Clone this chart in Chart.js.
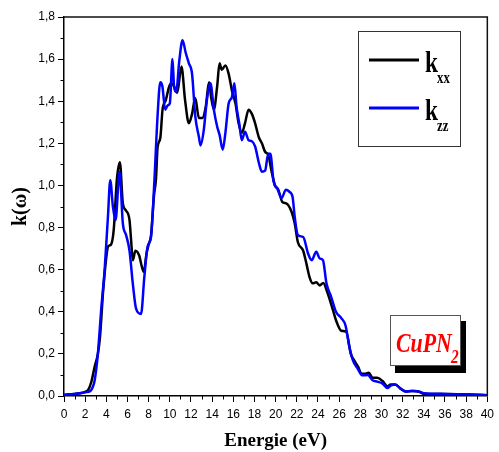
<!DOCTYPE html>
<html>
<head>
<meta charset="utf-8">
<script src="https://cdn.jsdelivr.net/npm/chart.js@4"></script>
<style>
  html, body { margin: 0; padding: 0; background: #fff; }
  #wrap { width: 499px; height: 452px; }
</style>
</head>
<body>
<div id="wrap"><canvas id="chart-k"></canvas></div>
<script>
const series_labels = ['xx', 'zz'];

// k_xx (black)
const energy_xx = [0, 1, 1.5, 2.0, 2.3, 2.6, 2.9, 3.2, 3.4, 3.7, 4.0, 4.16, 4.45, 4.7, 5.0, 5.28, 5.56, 5.87, 6.19, 6.34,
    6.5, 6.75, 7.12, 7.28, 7.53, 7.81, 8.0, 8.22, 8.5, 8.69, 8.84, 9.1, 9.31, 9.62, 9.94, 10.16, 10.4, 10.7, 11.1, 11.44,
    11.8, 12.1, 12.4, 12.75, 13.06, 13.4, 13.7, 13.9, 14.16, 14.47, 14.7, 14.9, 15.25, 15.56, 15.87, 16.2, 16.5, 16.8, 17.1, 17.44,
    17.75, 18.06, 18.4, 18.7, 19.0, 19.3, 19.6, 19.94, 20.25, 20.65, 21.0, 21.5, 21.8, 22.1, 22.6, 22.9, 23.2, 23.5, 23.84, 24.16,
    24.5, 24.9, 25.4, 25.7, 26.2, 26.66, 27.1, 27.4, 27.8, 28.1, 28.5, 28.8, 29.16, 29.6, 30.1, 30.56, 30.87, 31.3, 31.8, 32.3,
    32.9, 33.5, 34.0, 36, 38, 40];
const k_xx = [0.005, 0.01, 0.013, 0.02, 0.03, 0.07, 0.14, 0.2, 0.28, 0.5, 0.66, 0.71, 0.72, 0.79, 1.03, 1.11, 0.915, 0.88, 0.835, 0.74,
    0.645, 0.69, 0.665, 0.63, 0.59, 0.68, 0.72, 0.76, 0.95, 1.03, 1.18, 1.225, 1.36, 1.405, 1.47, 1.485, 1.47, 1.44, 1.565, 1.405,
    1.295, 1.34, 1.415, 1.32, 1.32, 1.375, 1.49, 1.42, 1.36, 1.47, 1.58, 1.55, 1.57, 1.53, 1.45, 1.39, 1.295, 1.25, 1.295, 1.36,
    1.34, 1.295, 1.23, 1.2, 1.16, 1.145, 1.07, 1.0, 0.98, 0.92, 0.915, 0.875, 0.82, 0.73, 0.69, 0.63, 0.565, 0.535, 0.54, 0.525,
    0.537, 0.49, 0.41, 0.36, 0.31, 0.305, 0.2, 0.17, 0.138, 0.106, 0.106, 0.11, 0.087, 0.087, 0.071, 0.046, 0.055, 0.055, 0.035, 0.021,
    0.024, 0.021, 0.011, 0.009, 0.007, 0.004];

// k_zz (blue)
const energy_zz = [0, 1, 1.5, 2.0, 2.5, 2.7, 2.9, 3.2, 3.53, 3.84, 4.15, 4.37, 4.62, 4.87, 5.25, 5.56, 5.87, 6.19, 6.5, 6.81,
    7.28, 7.59, 7.9, 8.22, 8.53, 8.84, 9.1, 9.3, 9.56, 9.8, 10.0, 10.25, 10.4, 10.6, 10.9, 11.2, 11.5, 11.8, 12.1, 12.4,
    12.75, 12.9, 13.2, 13.5, 13.84, 14.16, 14.47, 14.7, 15.0, 15.25, 15.56, 15.87, 16.1, 16.3, 16.56, 16.8, 17.1, 17.44, 17.75, 18.06,
    18.4, 18.7, 19.0, 19.3, 19.5, 19.8, 20.16, 20.56, 20.97, 21.3, 21.6, 21.8, 22.1, 22.6, 23.06, 23.4, 23.84, 24.16, 24.47, 24.8,
    25.25, 25.7, 26.2, 26.6, 26.97, 27.3, 27.75, 28.2, 28.7, 29.16, 29.6, 30.1, 30.56, 30.87, 31.3, 31.8, 32.3, 32.8, 33.2, 33.6,
    34.0, 36, 38, 40];
const k_zz = [0.005, 0.01, 0.013, 0.018, 0.024, 0.04, 0.075, 0.2, 0.42, 0.6, 0.85, 1.025, 0.9, 0.835, 1.065, 0.82, 0.764, 0.69, 0.535, 0.415,
    0.39, 0.565, 0.71, 0.755, 1.01, 1.33, 1.49, 1.47, 1.36, 1.38, 1.39, 1.6, 1.47, 1.445, 1.595, 1.69, 1.63, 1.58, 1.53, 1.33,
    1.23, 1.19, 1.26, 1.405, 1.485, 1.36, 1.28, 1.24, 1.17, 1.25, 1.39, 1.42, 1.485, 1.375, 1.295, 1.215, 1.255, 1.215, 1.21, 1.185,
    1.11, 1.065, 1.07, 1.15, 1.15, 1.02, 0.985, 0.94, 0.98, 0.97, 0.945, 0.85, 0.764, 0.755, 0.677, 0.645, 0.685, 0.653, 0.645, 0.535,
    0.47, 0.4, 0.37, 0.335, 0.233, 0.17, 0.13, 0.098, 0.1, 0.075, 0.068, 0.059, 0.038, 0.049, 0.055, 0.035, 0.021, 0.024, 0.024, 0.02,
    0.013, 0.01, 0.008, 0.004];

const x_range = [0, 40];
const y_range = [0, 1.8];

const tickFont = { family: "'Liberation Sans Narrow', 'Arial Narrow', 'Liberation Sans', Arial, sans-serif", size: 12 };
const serif = "'Liberation Serif', 'Times New Roman', serif";

function toPoints(xs, ys) {
    return xs.map((x, i) => ({ x: x, y: ys[i] }));
}

function drawText(ctx, text, x, y, font, color, sx) {
    ctx.save();
    ctx.translate(x, y);
    ctx.scale(sx, 1);
    ctx.font = font;
    ctx.fillStyle = color;
    ctx.textBaseline = 'alphabetic';
    ctx.textAlign = 'left';
    ctx.fillText(text, 0, 0);
    ctx.restore();
}

// frame, minor ticks, legend and compound label
const decorations = {
    id: 'decorations',
    afterDraw(chart) {
        const ctx = chart.ctx;
        const area = chart.chartArea;
        const xs = chart.scales.x;
        const ys = chart.scales.y;
        ctx.save();

        ctx.strokeStyle = '#111';
        ctx.lineWidth = 1.5;
        ctx.beginPath();
        ctx.moveTo(area.left, area.top);
        ctx.lineTo(area.right, area.top);
        ctx.lineTo(area.right, area.bottom);
        ctx.stroke();

        ctx.lineWidth = 1;
        ctx.strokeStyle = '#000';
        ctx.beginPath();
        for (let v = 1; v < 40; v += 2) {
            const px = Math.round(xs.getPixelForValue(v)) + 0.5;
            ctx.moveTo(px, area.bottom);
            ctx.lineTo(px, area.bottom + 3.5);
        }
        for (let i = 1; i < 18; i += 2) {
            const py = Math.round(ys.getPixelForValue(i / 10)) + 0.5;
            ctx.moveTo(area.left, py);
            ctx.lineTo(area.left - 3.5, py);
        }
        ctx.stroke();

        // legend
        ctx.strokeStyle = '#333';
        ctx.lineWidth = 1;
        ctx.strokeRect(358.5, 31.5, 102, 115);
        ctx.lineWidth = 3;
        ctx.strokeStyle = '#000';
        ctx.beginPath();
        ctx.moveTo(369, 60);
        ctx.lineTo(419, 60);
        ctx.stroke();
        ctx.strokeStyle = '#0000ff';
        ctx.beginPath();
        ctx.moveTo(369, 108);
        ctx.lineTo(419, 108);
        ctx.stroke();
        drawText(ctx, 'k', 425, 72, 'bold 30px ' + serif, '#000', 0.78);
        drawText(ctx, series_labels[0], 437, 83, 'bold 16px ' + serif, '#000', 0.8);
        drawText(ctx, 'k', 425, 120, 'bold 30px ' + serif, '#000', 0.78);
        drawText(ctx, series_labels[1], 437, 131, 'bold 16px ' + serif, '#000', 0.8);

        // compound label
        ctx.fillStyle = '#000';
        ctx.fillRect(395, 321, 71, 52);
        ctx.fillStyle = '#fff';
        ctx.fillRect(390, 315, 71, 51);
        ctx.strokeStyle = '#555';
        ctx.lineWidth = 1;
        ctx.strokeRect(390.5, 315.5, 70, 50);
        drawText(ctx, 'CuPN', 396, 352, 'italic bold 28px ' + serif, '#ff0000', 0.78);
        drawText(ctx, '2', 451, 363, 'italic bold 18px ' + serif, '#ff0000', 0.85);

        ctx.restore();
    }
};

new Chart(document.getElementById('chart-k'), {
    type: 'line',
    data: {
        datasets: [
            {
                label: 'k' + series_labels[0],
                data: toPoints(energy_xx, k_xx),
                borderColor: '#000000',
                borderWidth: 2.5,
                pointRadius: 0,
                cubicInterpolationMode: 'monotone',
                order: 1
            },
            {
                label: 'k' + series_labels[1],
                data: toPoints(energy_zz, k_zz),
                borderColor: '#0000ff',
                borderWidth: 2.5,
                pointRadius: 0,
                cubicInterpolationMode: 'monotone',
                order: 0
            }
        ]
    },
    options: {
        responsive: true,
        maintainAspectRatio: false,
        animation: false,
        layout: { padding: { left: 0, right: 8, top: 17, bottom: 0 } },
        plugins: {
            legend: { display: false },
            tooltip: { enabled: false }
        },
        scales: {
            x: {
                type: 'linear',
                min: x_range[0],
                max: x_range[1],
                afterFit: s => { s.height = 56; },
                border: { color: '#000', width: 1.5 },
                grid: { drawOnChartArea: false, tickLength: 6, tickColor: '#000', tickWidth: 1 },
                ticks: {
                    stepSize: 2,
                    color: '#000',
                    font: tickFont,
                    padding: 5,
                    maxRotation: 0,
                    callback: v => String(v)
                },
                title: {
                    display: true,
                    text: 'Energie (eV)',
                    color: '#000',
                    font: { family: serif, size: 19, weight: 'bold' },
                    padding: 0
                }
            },
            y: {
                min: y_range[0],
                max: y_range[1],
                afterFit: s => { s.width = 64; },
                border: { color: '#000', width: 1.5 },
                grid: { drawOnChartArea: false, tickLength: 6, tickColor: '#000', tickWidth: 1 },
                ticks: {
                    stepSize: 0.2,
                    color: '#000',
                    font: tickFont,
                    padding: 3,
                    callback: v => v.toFixed(1).replace('.', ',')
                },
                title: {
                    display: true,
                    text: 'k(ω)',
                    color: '#000',
                    font: { family: serif, size: 20, weight: 'bold' },
                    padding: { top: 9, bottom: 0 }
                }
            }
        }
    },
    plugins: [decorations]
});
</script>
</body>
</html>
